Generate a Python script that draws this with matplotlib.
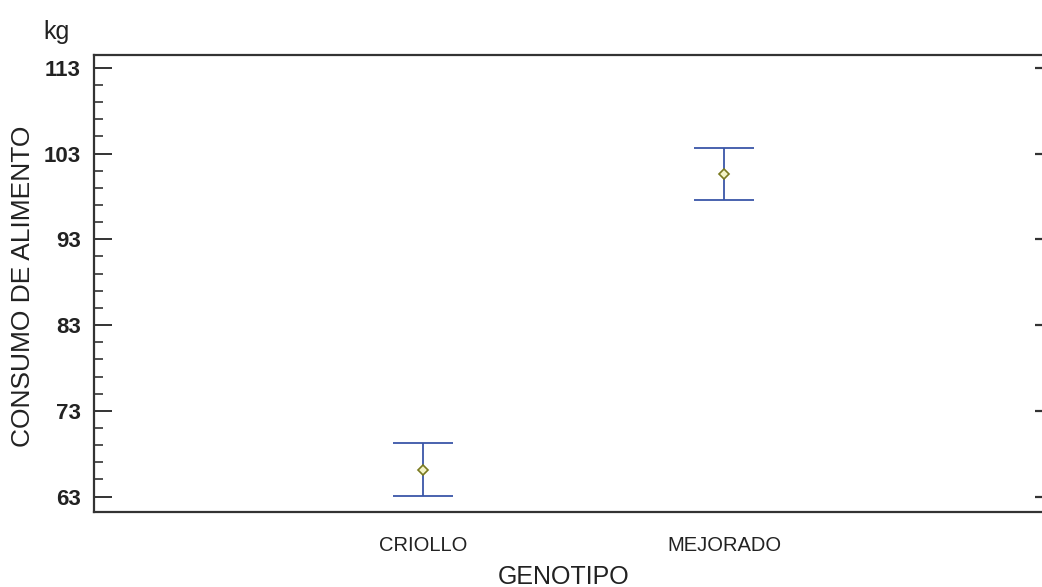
import matplotlib
matplotlib.use("Agg")
from matplotlib import pyplot as plt
from matplotlib.ticker import FixedLocator
import numpy as np

plt.rcParams['font.family'] = ['Liberation Sans', 'DejaVu Sans']

genotipos = ["CRIOLLO", "MEJORADO"]
medias = [66.1, 100.6]
inferior = [63.1, 97.6]
superior = [69.3, 103.7]
yticks = [63, 73, 83, 93, 103, 113]
yminor = list(range(65, 113, 2))

fig = plt.figure(figsize=(10.42, 5.87), dpi=100)
ax = fig.add_axes([94 / 1042, 1 - 512 / 587, 1 - 94 / 1042, (512 - 55) / 587])

x = np.arange(len(genotipos))
medias = np.array(medias)
err = [medias - np.array(inferior), np.array(superior) - medias]
ax.errorbar(x, medias, yerr=err, fmt="none", ecolor="#3a56a8", elinewidth=1.3,
            capsize=21.6, capthick=1.3)
ax.plot(x, medias, linestyle="none", marker="D", markersize=5.5,
        markerfacecolor="#f4f4c8", markeredgecolor="#7a7a20", markeredgewidth=1.2)

ylim = (61.2, 114.5)
ax.set_xlim(-1.093, 2.056)
ax.set_ylim(*ylim)
ax.set_xticks(x)
ax.set_xticklabels(genotipos, fontsize=14.5, color="#222222")
ax.tick_params(axis="x", length=0, pad=17)

ax.set_yticks(yticks)
ax.set_yticklabels([str(t) for t in yticks], fontsize=16, fontweight="bold",
                   color="#222222")
ax.yaxis.set_minor_locator(FixedLocator(yminor))
ax.tick_params(axis="y", which="major", direction="in", length=13, width=1.4,
               pad=9.5, color="#333333")
ax.tick_params(axis="y", which="minor", direction="in", length=6.5, width=1.2,
               color="#333333")

for s in ["left", "top", "bottom"]:
    ax.spines[s].set_linewidth(1.6)
    ax.spines[s].set_color("#333333")
ax.spines["right"].set_visible(False)

# marcas cortas del lado derecho
ax2 = ax.twinx()
ax2.set_ylim(*ylim)
ax2.set_yticks(yticks)
ax2.set_yticklabels([])
ax2.tick_params(axis="y", direction="in", length=5, width=1.6, color="#333333")
for s in ax2.spines.values():
    s.set_visible(False)

fig.text(23 / 1042, 1 - 286 / 587, "CONSUMO DE ALIMENTO", fontsize=19,
         rotation=90, ha="center", va="center", color="#222222")
fig.text(564 / 1042, 1 - 584 / 587, "GENOTIPO", fontsize=18, ha="center",
         va="baseline", color="#222222")
fig.text(43 / 1042, 1 - 39 / 587, "kg", fontsize=18, ha="left", va="baseline",
         color="#222222")

fig.savefig("out.png", dpi=100)
